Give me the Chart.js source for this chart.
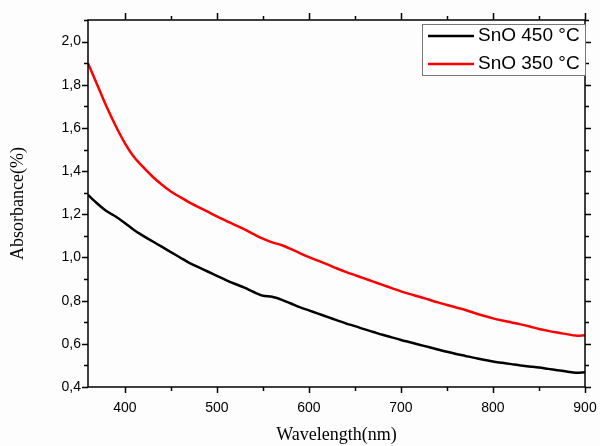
<!DOCTYPE html>
<html><head><meta charset="utf-8">
<script src="https://cdn.jsdelivr.net/npm/chart.js@4.4.1/dist/chart.umd.min.js"></script>
<style>html,body{margin:0;padding:0;background:#fff;}#wrap{width:600px;height:446px;}</style>
</head><body><div id="wrap"><canvas id="c" width="600" height="446"></canvas></div>
<script>
const wavelengths = [360,370,380,390,400,410,420,430,440,450,460,470,480,490,500,510,520,530,540,550,560,570,580,590,600,610,620,630,640,650,660,670,680,690,700,710,720,730,740,750,760,770,780,790,800,810,820,830,840,850,860,870,880,890,900];
const sno450 = [1.29,1.25,1.215,1.19,1.16,1.127,1.10,1.075,1.05,1.025,1.00,0.975,0.955,0.935,0.915,0.895,0.877,0.86,0.84,0.823,0.818,0.805,0.788,0.77,0.755,0.74,0.725,0.71,0.695,0.682,0.668,0.655,0.642,0.63,0.618,0.607,0.596,0.585,0.574,0.563,0.553,0.544,0.535,0.526,0.518,0.512,0.506,0.50,0.495,0.49,0.484,0.478,0.472,0.466,0.468];
const sno350 = [1.90,1.80,1.70,1.61,1.53,1.465,1.418,1.375,1.338,1.306,1.28,1.255,1.233,1.212,1.19,1.17,1.15,1.13,1.108,1.087,1.07,1.058,1.04,1.02,1.002,0.985,0.968,0.95,0.933,0.918,0.903,0.888,0.873,0.858,0.843,0.83,0.818,0.805,0.792,0.78,0.768,0.757,0.743,0.73,0.718,0.708,0.699,0.69,0.68,0.669,0.66,0.652,0.645,0.638,0.64];
const seriesLabels = ['SnO 450 °C','SnO 350 °C'];
const xMajorTicks = [400,500,600,700,800,900];
const xMinorTicks = [450,550,650,750,850];
const yMajorTicks = [0.4,0.6,0.8,1.0,1.2,1.4,1.6,1.8,2.0];
const yMinorTicks = [0.5,0.7,0.9,1.1,1.3,1.5,1.7,1.9,2.1];

const toPts = (arr) => wavelengths.map((w,i)=>({x:w,y:arr[i]}));

const framePlugin = {
  id:'frame',
  beforeDraw(chart){
    const ctx=chart.ctx; ctx.save(); ctx.fillStyle='#fdfdfd'; ctx.fillRect(0,0,chart.width,chart.height); ctx.restore();
  },
  afterDatasetsDraw(chart){
    const ctx=chart.ctx, a=chart.chartArea, xs=chart.scales.x, ys=chart.scales.y;
    ctx.save();
    ctx.strokeStyle='#000';
    ctx.lineWidth=1.5;
    ctx.strokeRect(a.left,a.top,a.right-a.left,a.bottom-a.top);
    ctx.beginPath();
    xMajorTicks.forEach(v=>{const p=Math.round(xs.getPixelForValue(v))+0.5;
      ctx.moveTo(p,a.bottom);ctx.lineTo(p,a.bottom+6);
      ctx.moveTo(p,a.top);ctx.lineTo(p,a.top-7);});
    xMinorTicks.forEach(v=>{const p=Math.round(xs.getPixelForValue(v))+0.5;
      ctx.moveTo(p,a.bottom);ctx.lineTo(p,a.bottom+4);
      ctx.moveTo(p,a.top);ctx.lineTo(p,a.top-4);});
    yMajorTicks.forEach(v=>{const p=Math.round(ys.getPixelForValue(v))+0.5;
      ctx.moveTo(a.left,p);ctx.lineTo(a.left-6,p);
      ctx.moveTo(a.right,p);ctx.lineTo(a.right+6,p);});
    yMinorTicks.forEach(v=>{const p=Math.round(ys.getPixelForValue(v))+0.5;
      ctx.moveTo(a.left,p);ctx.lineTo(a.left-4,p);
      ctx.moveTo(a.right,p);ctx.lineTo(a.right+4,p);});
    ctx.stroke();
    // legend
    const lx=422, ly=24, lw=a.right-422, lh=51;
    ctx.fillStyle='#ffffff';
    ctx.fillRect(lx,ly,lw,lh);
    ctx.strokeStyle='#777';ctx.lineWidth=1;
    ctx.strokeRect(lx+0.5,ly+0.5,lw,lh);
    ctx.font='19px "Liberation Sans", Arial, sans-serif';
    ctx.textBaseline='middle';ctx.textAlign='left';
    chart.data.datasets.forEach((ds,i)=>{
      const yy=ly+12+i*28;
      ctx.strokeStyle=ds.borderColor;ctx.lineWidth=2.5;
      ctx.beginPath();ctx.moveTo(428,yy);ctx.lineTo(474,yy);ctx.stroke();
      ctx.fillStyle='#000';ctx.fillText(ds.label,478,yy);
    });
    ctx.restore();
  }
};

new Chart(document.getElementById('c'),{
  type:'line',
  data:{datasets:[
    {label:seriesLabels[0],data:toPts(sno450),borderColor:'#000000',borderWidth:2.5,pointRadius:0,tension:0.3,fill:false},
    {label:seriesLabels[1],data:toPts(sno350),borderColor:'#ff0000',borderWidth:2.5,pointRadius:0,tension:0.3,fill:false}
  ]},
  options:{
    responsive:false,animation:false,
    layout:{padding:{top:20,right:15,left:0,bottom:0}},
    plugins:{legend:{display:false},tooltip:{enabled:false}},
    scales:{
      x:{type:'linear',min:360,max:900,
        afterBuildTicks(s){s.ticks=xMajorTicks.map(v=>({value:v}));},
        afterFit(s){s.height=59;s.paddingRight=0;},
        grid:{display:false,drawTicks:false},border:{display:false},
        ticks:{color:'#000',font:{family:'"Liberation Sans", Arial',size:14},padding:13,maxRotation:0,callback:v=>String(v)},
        title:{display:true,text:'Wavelength(nm)',color:'#000',font:{family:'"Liberation Serif", "Times New Roman", serif',size:18},padding:{top:6,bottom:0}}
      },
      y:{type:'linear',min:0.4,max:2.1,
        afterBuildTicks(s){s.ticks=yMajorTicks.map(v=>({value:v}));},
        afterFit(s){s.width=88;},
        grid:{display:false,drawTicks:false},border:{display:false},
        ticks:{color:'#000',font:{family:'"Liberation Sans", Arial',size:14},padding:7,callback:v=>v.toFixed(1).replace('.',',')},
        title:{display:true,text:'Absorbance(%)',color:'#000',font:{family:'"Liberation Serif", "Times New Roman", serif',size:18},padding:{top:7,bottom:0}}
      }
    }
  },
  plugins:[framePlugin]
});
</script></body></html>
